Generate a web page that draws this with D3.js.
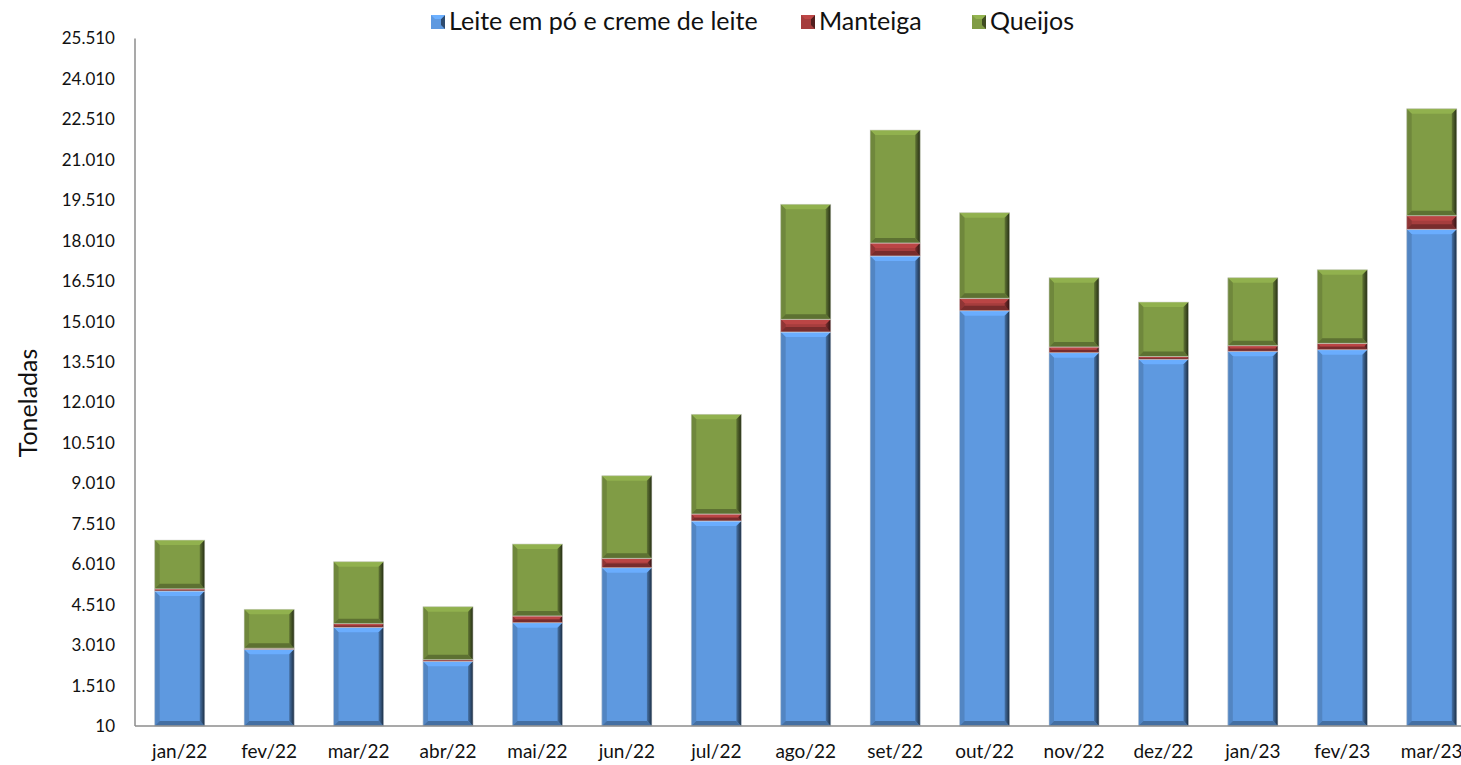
<!DOCTYPE html>
<html>
<head>
<meta charset="utf-8">
<script src="https://cdn.jsdelivr.net/npm/d3@7"></script>
<style>
  body { margin: 0; background: #fff; }
  text { font-family: Lato, "Liberation Sans", sans-serif; fill: #111; }
</style>
</head>
<body>
<div id="chart"></div>
<script>
var categories = ['jan/22','fev/22','mar/22','abr/22','mai/22','jun/22','jul/22','ago/22','set/22','out/22','nov/22','dez/22','jan/23','fev/23','mar/23'];
var leite    = [5017, 2855, 3671, 2410, 3842, 5882, 7614, 14624, 17443, 15414, 13857, 13611, 13908, 13968, 18433];
var manteiga = [80, 40, 135, 60, 250, 348, 259, 471, 482, 460, 211, 100, 208, 237, 505];
var queijos  = [1812, 1444, 2298, 1966, 2670, 3064, 3698, 4266, 4192, 3176, 2571, 2026, 2523, 2730, 3969];
var seriesNames = ['Leite em pó e creme de leite', 'Manteiga', 'Queijos'];
var tickValues = d3.range(10, 25511, 1500);

var width = 1461, height = 765;
var colors = ['#5e99e0', '#a53d3d', '#809c45'];

var svg = d3.select('#chart').append('svg')
    .attr('width', width)
    .attr('height', height);

var x = d3.scaleBand()
    .domain(categories)
    .range([135, 135 + 15 * 89.43])
    .paddingInner(0.44)
    .paddingOuter(0.22);

var y = d3.scaleLinear()
    .domain([10, 25510])
    .range([726, 38.5]);

var fmt = d3.formatLocale({decimal: ',', thousands: '.', grouping: [3], currency: ['R$', '']}).format(',d');

// stack
var table = categories.map(function(c, i) {
    return {cat: c, s0: leite[i], s1: manteiga[i], s2: queijos[i]};
});
var stack = d3.stack().keys(['s0', 's1', 's2'])(table);

// gradients for the dark right bevel
var defs = svg.append('defs');
colors.forEach(function(c, i) {
    var g = defs.append('linearGradient').attr('id', 'rg' + i)
        .attr('x1', 0).attr('x2', 1).attr('y1', 0).attr('y2', 0);
    g.append('stop').attr('offset', 0).attr('stop-color', d3.color(c).darker(0.8));
    g.append('stop').attr('offset', 1).attr('stop-color', d3.color(c).darker(3.5));
});

// axes lines
svg.append('line')
    .attr('x1', 135).attr('x2', 135)
    .attr('y1', y(25510)).attr('y2', y(10))
    .attr('stroke', '#8c8c8c').attr('stroke-width', 1.5);

// y tick labels
svg.append('g').selectAll('text')
    .data(tickValues)
    .enter().append('text')
    .attr('x', 115)
    .attr('y', function(d) { return y(d); })
    .attr('dy', '0.35em')
    .attr('text-anchor', 'end')
    .style('font-size', '17px')
    .text(function(d) { return fmt(d); });

// bars
var bevel = 5;
stack.forEach(function(layer, si) {
    var g = svg.append('g');
    layer.forEach(function(d, i) {
        var x0 = x(categories[i]);
        var w = x.bandwidth();
        var y0 = y(Math.max(d[1], 10));
        var y1 = y(Math.max(d[0], 10));
        var h = y1 - y0;
        if (h <= 0) return;
        var b = Math.min(bevel, h / 2.2);
        var c = d3.color(colors[si]);
        g.append('rect')
            .attr('x', x0).attr('y', y0)
            .attr('width', w).attr('height', h)
            .attr('fill', colors[si]);
        // top bevel
        g.append('polygon')
            .attr('points', [[x0, y0], [x0 + w, y0], [x0 + w - b, y0 + b], [x0 + b, y0 + b]].join(' '))
            .attr('fill', c.brighter(0.35));
        // left bevel
        g.append('polygon')
            .attr('points', [[x0, y0], [x0 + b, y0 + b], [x0 + b, y1 - b], [x0, y1]].join(' '))
            .attr('fill', c.darker(0.4));
        // bottom bevel
        g.append('polygon')
            .attr('points', [[x0, y1], [x0 + b, y1 - b], [x0 + w - b, y1 - b], [x0 + w, y1]].join(' '))
            .attr('fill', c.darker(0.9));
        // right bevel
        g.append('polygon')
            .attr('points', [[x0 + w, y0], [x0 + w, y1], [x0 + w - b, y1 - b], [x0 + w - b, y0 + b]].join(' '))
            .attr('fill', 'url(#rg' + si + ')');
        g.append('rect')
            .attr('x', x0).attr('y', y0)
            .attr('width', w).attr('height', h)
            .attr('fill', 'none')
            .attr('stroke', 'rgba(220,220,220,0.7)')
            .attr('stroke-width', 0.8);
    });
});

svg.append('line')
    .attr('x1', 135).attr('x2', width)
    .attr('y1', y(10)).attr('y2', y(10))
    .attr('stroke', '#8c8c8c').attr('stroke-width', 1.5);

// x labels
svg.append('g').selectAll('text')
    .data(categories)
    .enter().append('text')
    .attr('x', function(d) { return x(d) + x.bandwidth() / 2; })
    .attr('y', 758)
    .attr('text-anchor', 'middle')
    .style('font-size', '19px')
    .text(function(d) { return d; });

// y title
svg.append('text')
    .attr('transform', 'translate(37,403) rotate(-90)')
    .attr('text-anchor', 'middle')
    .style('font-size', '25px')
    .text('Toneladas');

// legend
var legendX = [431, 801, 972];
var legend = svg.selectAll('.legend')
    .data(seriesNames)
    .enter().append('g')
    .attr('class', 'legend')
    .attr('transform', function(d, i) { return 'translate(' + legendX[i] + ',15)'; });

legend.append('rect')
    .attr('width', 14).attr('height', 14)
    .attr('fill', function(d, i) { return colors[i]; });
legend.append('polygon')
    .attr('points', '14,0 14,14 10,10 10,4')
    .attr('fill', function(d, i) { return d3.color(colors[i]).darker(2); });
legend.append('polygon')
    .attr('points', '0,0 14,0 10,4 4,4')
    .attr('fill', function(d, i) { return d3.color(colors[i]).brighter(0.4); });

legend.append('text')
    .attr('x', 18)
    .attr('y', 15)
    .style('font-size', '25px')
    .text(function(d) { return d; });
</script>
</body>
</html>
